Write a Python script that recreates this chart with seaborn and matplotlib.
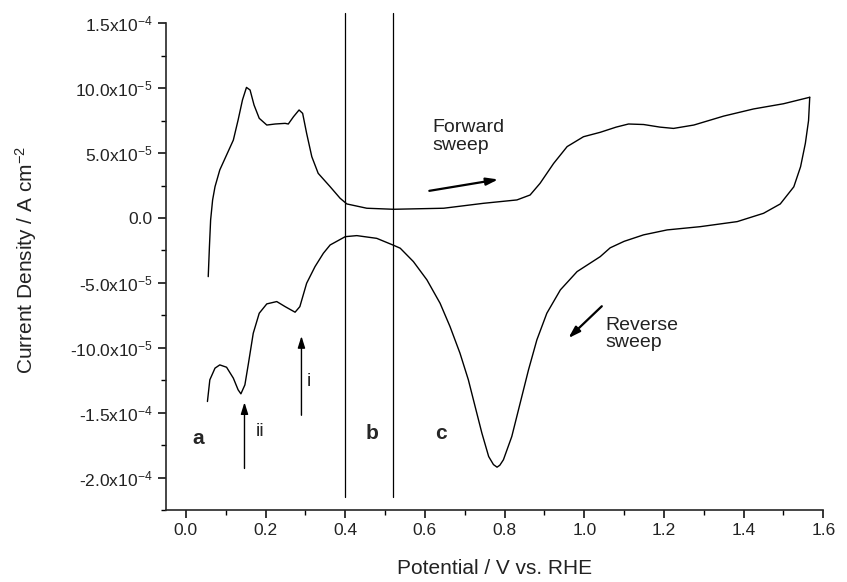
import numpy as np
import pandas as pd
import seaborn as sns
import matplotlib.pyplot as plt
from matplotlib.ticker import FixedLocator, FixedFormatter, MultipleLocator

# Forward (anodic) sweep
fwd_potential = [0.056, 0.059, 0.062, 0.067, 0.073, 0.085, 0.102, 0.119, 0.131, 0.142, 0.152,
                 0.161, 0.171, 0.184, 0.203, 0.224, 0.249, 0.257, 0.27, 0.284, 0.293, 0.303,
                 0.316, 0.332, 0.362, 0.387, 0.404, 0.454, 0.521, 0.647, 0.747, 0.831,
                 0.864, 0.889, 0.923, 0.957, 0.998, 1.04, 1.08, 1.111, 1.149, 1.19, 1.224,
                 1.275, 1.35, 1.425, 1.5, 1.566]
fwd_current = [-4.52e-5, -2.2e-5, -0.15e-5, 1.39e-5, 2.41e-5, 3.7e-5, 4.85e-5, 6.0e-5, 7.55e-5,
               9.1e-5, 10.06e-5, 9.86e-5, 8.7e-5, 7.68e-5, 7.16e-5, 7.24e-5, 7.29e-5, 7.24e-5,
               7.8e-5, 8.32e-5, 8.06e-5, 6.52e-5, 4.72e-5, 3.44e-5, 2.41e-5, 1.52e-5, 1.08e-5,
               0.75e-5, 0.67e-5, 0.75e-5, 1.13e-5, 1.39e-5, 1.77e-5, 2.67e-5, 4.2e-5, 5.5e-5,
               6.26e-5, 6.6e-5, 7.0e-5, 7.24e-5, 7.2e-5, 7.0e-5, 6.9e-5, 7.16e-5, 7.85e-5,
               8.4e-5, 8.8e-5, 9.3e-5]

# Reverse (cathodic) sweep
rev_potential = [1.566, 1.563, 1.555, 1.543, 1.526, 1.492, 1.45, 1.384, 1.291, 1.208, 1.149,
                 1.1, 1.065, 1.04, 0.982, 0.94, 0.906, 0.881, 0.86, 0.839, 0.818, 0.797,
                 0.788, 0.781, 0.772, 0.76, 0.743, 0.726, 0.709, 0.688, 0.663, 0.638, 0.605,
                 0.571, 0.538, 0.521, 0.479, 0.429, 0.4, 0.362, 0.345, 0.324, 0.303, 0.286,
                 0.274, 0.249, 0.228, 0.203, 0.184, 0.169, 0.157, 0.148, 0.138, 0.131, 0.119,
                 0.102, 0.085, 0.073, 0.06, 0.054]
rev_current = [9.3e-5, 7.5e-5, 5.75e-5, 3.95e-5, 2.4e-5, 1.08e-5, 0.36e-5, -0.28e-5, -0.67e-5,
               -0.92e-5, -1.3e-5, -1.8e-5, -2.3e-5, -2.98e-5, -4.13e-5, -5.54e-5, -7.34e-5,
               -9.39e-5, -1.17e-4, -1.427e-4, -1.684e-4, -1.863e-4, -1.905e-4, -1.92e-4,
               -1.9e-4, -1.838e-4, -1.658e-4, -1.453e-4, -1.247e-4, -1.042e-4, -8.37e-5,
               -6.57e-5, -4.77e-5, -3.36e-5, -2.33e-5, -2.1e-5, -1.57e-5, -1.36e-5, -1.44e-5,
               -2.08e-5, -2.72e-5, -3.75e-5, -5.03e-5, -6.83e-5, -7.26e-5, -6.83e-5, -6.44e-5,
               -6.62e-5, -7.34e-5, -8.88e-5, -1.119e-4, -1.286e-4, -1.355e-4, -1.324e-4,
               -1.234e-4, -1.15e-4, -1.132e-4, -1.157e-4, -1.247e-4, -1.414e-4]

# Region boundaries
boundary_potential = [0.40, 0.52]
boundary_current = [-2.146e-4, 1.58e-4]

y_tick_values = [1.5e-4, 1.0e-4, 5.0e-5, 0.0, -5.0e-5, -1.0e-4, -1.5e-4, -2.0e-4]
y_tick_labels = [r"1.5x10$^{-4}$", r"10.0x10$^{-5}$", r"5.0x10$^{-5}$", "0.0",
                 r"-5.0x10$^{-5}$", r"-10.0x10$^{-5}$", r"-1.5x10$^{-4}$", r"-2.0x10$^{-4}$"]
y_minor_values = [-2.25e-4, -1.75e-4, -1.25e-4, -7.5e-5, -2.5e-5, 2.5e-5, 7.5e-5, 1.25e-4]

sns.set_style("ticks")
plt.rcParams["font.family"] = ["Liberation Sans", "DejaVu Sans"]
plt.rcParams["mathtext.default"] = "regular"

fig = plt.figure(figsize=(8.47, 5.82), dpi=100)
ax = fig.add_axes([0.196, 0.1237, 0.776, 0.8586])

fwd = pd.DataFrame({"E": fwd_potential, "j": fwd_current})
rev = pd.DataFrame({"E": rev_potential, "j": rev_current})
sns.lineplot(data=fwd, x="E", y="j", sort=False, estimator=None, color="black", lw=1.0, ax=ax)
sns.lineplot(data=rev, x="E", y="j", sort=False, estimator=None, color="black", lw=1.0, ax=ax)

for xb in boundary_potential:
    ax.plot([xb, xb], boundary_current, color="black", lw=0.9, clip_on=False)

ax.set_xlim(-0.05, 1.6)
ax.set_ylim(-2.25e-4, 1.6e-4)
ax.spines["top"].set_visible(False)
ax.spines["right"].set_visible(False)
ax.spines["left"].set_bounds(-2.25e-4, 1.5e-4)
for s in ("left", "bottom"):
    ax.spines[s].set_linewidth(1.2)

ax.xaxis.set_major_locator(MultipleLocator(0.2))
ax.xaxis.set_minor_locator(MultipleLocator(0.1))
ax.xaxis.set_major_formatter(plt.FuncFormatter(lambda v, p: f"{v:.1f}"))
ax.yaxis.set_major_locator(FixedLocator(y_tick_values))
ax.yaxis.set_major_formatter(FixedFormatter(y_tick_labels))
ax.yaxis.set_minor_locator(FixedLocator(y_minor_values))
ax.tick_params(which="major", direction="out", length=6, width=1.1, labelsize=12.5,
               color="black", labelcolor="#222222")
ax.tick_params(which="minor", direction="out", length=3.5, width=1.0, color="black")

ax.set_xlabel("Potential / V vs. RHE", fontsize=15, labelpad=15, color="#222222")
ax.set_ylabel("Current Density / A cm$^{-2}$", fontsize=15, labelpad=22, color="#222222")

# Region labels and peak markers
ax.text(0.03, -1.70e-4, "a", fontsize=15, fontweight="bold", ha="center", va="center")
ax.text(0.467, -1.66e-4, "b", fontsize=15, fontweight="bold", ha="center", va="center")
ax.text(0.64, -1.66e-4, "c", fontsize=15, fontweight="bold", ha="center", va="center")
ax.text(0.186, -1.645e-4, "ii", fontsize=14, ha="center", va="center")
ax.text(0.31, -1.26e-4, "i", fontsize=14, ha="center", va="center")

arrow = dict(arrowstyle="-|>,head_length=0.7,head_width=0.22", color="black", lw=1.0,
             shrinkA=0, shrinkB=0)
ax.annotate("", xy=(0.147, -1.42e-4), xytext=(0.147, -1.93e-4), arrowprops=arrow)
ax.annotate("", xy=(0.29, -0.91e-4), xytext=(0.29, -1.52e-4), arrowprops=arrow)
ax.annotate("", xy=(0.784, 2.97e-5), xytext=(0.611, 2.09e-5), arrowprops=dict(arrow, lw=1.6))
ax.annotate("", xy=(0.96, -9.26e-5), xytext=(1.044, -6.8e-5), arrowprops=dict(arrow, lw=1.6))

ax.text(0.618, 7.6e-5, "Forward\nsweep", fontsize=14, ha="left", va="top", linespacing=1.05,
        color="#222222")
ax.text(1.052, -7.6e-5, "Reverse\nsweep", fontsize=14, ha="left", va="top", linespacing=1.05,
        color="#222222")

fig.savefig("out.png", dpi=100, facecolor="white")
